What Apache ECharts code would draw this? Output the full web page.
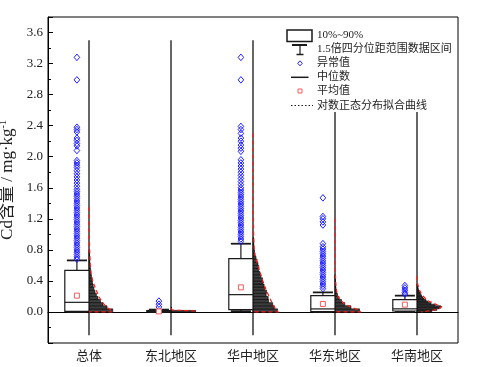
<!DOCTYPE html>
<html><head><meta charset="utf-8">
<script src="https://cdn.jsdelivr.net/npm/echarts@6/dist/echarts.min.js"></script>
<style>html,body{margin:0;padding:0;background:#fff}#c{width:480px;height:367px}</style>
</head><body><div id="c"></div>
<script>
// ---------- data ----------
const categories = ['总体', '东北地区', '华中地区', '华东地区', '华南地区'];

const whiskerLow  = [0.000, 0.000, 0.010, 0.000, 0.000];
const p10         = [0.008, 0.003, 0.030, 0.005, 0.012];
const medians     = [0.124, 0.010, 0.223, 0.039, 0.040];
const p90         = [0.536, 0.018, 0.686, 0.210, 0.158];
const whiskerHigh = [0.664, 0.030, 0.879, 0.252, 0.210];
const means       = [0.210, 0.007, 0.317, 0.103, 0.094];

const outliersTotal = [0.68,0.71,0.74,0.77,0.80,0.83,0.86,0.89,0.92,0.95,0.98,1.01,1.04,1.07,1.10,1.13,1.16,1.19,1.22,1.25,1.28,1.31,1.34,1.37,1.40,1.43,1.46,1.49,1.52,1.55,1.58,1.62,1.66,1.70,1.74,1.78,1.82,1.86,1.89,1.92,1.95,2.08,2.14,2.17,2.21,2.24,2.32,2.35,2.38,2.99,3.28];
const outliersNE = [0.065, 0.10, 0.14];
const outliersCentral = [0.91,0.94,0.97,1.00,1.03,1.06,1.09,1.12,1.15,1.18,1.21,1.24,1.27,1.30,1.33,1.36,1.39,1.42,1.45,1.48,1.51,1.54,1.57,1.60,1.64,1.68,1.72,1.76,1.80,1.84,1.88,1.92,1.96,2.07,2.11,2.15,2.20,2.24,2.30,2.35,2.39,2.99,3.28];
const outliersEast = [0.30,0.33,0.36,0.39,0.42,0.45,0.48,0.51,0.54,0.57,0.60,0.63,0.66,0.69,0.72,0.75,0.78,0.81,0.84,0.88,1.12,1.16,1.20,1.23,1.47];
const outliersSouth = [0.23, 0.25, 0.28, 0.31, 0.34];

// histogram: bin width (mg/kg) and relative frequency (%) per bin, starting at 0
const binWidths = [0.04, 0.02, 0.04, 0.04, 0.02];
const histTotal   = [29, 22, 17, 14, 11, 9, 7.3, 6, 5, 4.2, 3.6, 3, 2.4, 2, 1.6, 1.2, 1, 0.8, 0.7, 0.6];
const histNE      = [30];
const histCentral = [30, 26, 24, 19, 18.5, 16, 16.5, 14, 13.5, 12, 11.5, 9.5, 8.5, 7, 7, 6, 5, 3.6, 2.4, 1.8, 1.2, 1, 0.8, 0.6];
const histEast    = [30, 19.5, 12, 8, 5, 3, 1.8, 1.2, 0.8, 0.6, 0.5, 0.4];
const histSouth   = [18, 24, 27, 29, 22, 17, 13.5, 11, 8.5, 6.7, 5.5, 4.3, 3.6, 2.4, 1.8, 1.2, 1, 0.6];

// lognormal fit curves: [Cd value, relative frequency %]
const fitTotal   = [[1.35,0],[1.0,0.4],[0.8,0.8],[0.6,1.6],[0.5,2.5],[0.4,4.5],[0.33,7],[0.25,10],[0.18,13],[0.137,15.5],[0.09,19],[0.05,23],[0.02,27],[0,29],[0,0]];
const fitNE      = [[0.045,0],[0.025,1.5],[0.012,30],[0.006,30]];
const fitCentral = [[2.3,0],[1.5,0.3],[1.0,0.8],[0.8,1.5],[0.72,2.5],[0.6,6],[0.5,9],[0.4,12],[0.3,15.5],[0.2,19.5],[0.1,24],[0.05,27],[0.02,29.5],[0,30.5],[0,0]];
const fitEast    = [[1.2,0],[0.6,0.3],[0.4,0.8],[0.29,1.5],[0.2,3.5],[0.158,6],[0.1,12],[0.06,20],[0.026,29],[0,31],[0,0]];
const fitSouth   = [[0.46,0],[0.35,1],[0.287,2.8],[0.22,6],[0.18,9.8],[0.14,14],[0.116,19.5],[0.09,25],[0.065,30],[0.045,28],[0.03,23],[0.017,16],[0.005,8],[0,5]];

const legendLabels = ['10%~90%', '1.5倍四分位距范围数据区间', '异常值', '中位数', '平均值', '对数正态分布拟合曲线'];

const centerLineRange = [-0.3, 3.5];
const yMin = -0.4, yMax = 3.8, yStep = 0.4;

// ---------- build ----------
const outlierSets = [outliersTotal, outliersNE, outliersCentral, outliersEast, outliersSouth];
const histSets = [histTotal, histNE, histCentral, histEast, histSouth];
const fitSets = [fitTotal, fitNE, fitCentral, fitEast, fitSouth];

const outlierData = [];
outlierSets.forEach((arr, i) => arr.forEach(v => outlierData.push([i, v])));
const histData = [];
histSets.forEach((arr, i) => arr.forEach((f, k) => histData.push([i, k * binWidths[i], (k + 1) * binWidths[i], f])));

const SERIF = '"Liberation Serif", "Noto Sans CJK SC", serif';
const CJK = '"Noto Sans CJK SC", sans-serif';
const INK = '#1a1a1a';

// legend placement (pixels)
const LEG = { x: 285, y: 26, w: 172, h: 86 };

function band(api, i) {
  return { bw: api.size([1, 0])[0], c: api.coord([i, 0])[0] };
}

function legendGroup() {
  const rowY = [9, 23.3, 37.3, 51.3, 65, 79.7];
  const ch = [
    { type: 'rect', shape: { x: 0, y: 0, width: LEG.w, height: LEG.h }, style: { fill: '#fff' } },
    { type: 'rect', shape: { x: 2, y: 4, width: 25, height: 11.5 }, style: { fill: '#fff', stroke: INK, lineWidth: 1.5 } },
    { type: 'line', shape: { x1: 7, y1: 19, x2: 22, y2: 19 }, style: { stroke: INK, lineWidth: 2 } },
    { type: 'line', shape: { x1: 15, y1: 19, x2: 15, y2: 28.5 }, style: { stroke: INK, lineWidth: 1.2 } },
    { type: 'line', shape: { x1: 11.5, y1: 28.5, x2: 18.5, y2: 28.5 }, style: { stroke: INK, lineWidth: 1.5 } },
    { type: 'polygon', shape: { points: [[15, 34.8], [17.3, 37.3], [15, 39.8], [12.7, 37.3]] }, style: { fill: null, stroke: '#2020ff', lineWidth: 1 } },
    { type: 'line', shape: { x1: 6, y1: 51.3, x2: 23.5, y2: 51.3 }, style: { stroke: INK, lineWidth: 1.5 } },
    { type: 'rect', shape: { x: 13, y: 63, width: 4, height: 4 }, style: { fill: '#fff', stroke: '#ff5a5a', lineWidth: 1 } },
    { type: 'line', shape: { x1: 6, y1: 79.5, x2: 28, y2: 79.5 }, style: { stroke: INK, lineWidth: 1, lineDash: [1.5, 2] } }
  ];
  legendLabels.forEach((t, k) => ch.push({ type: 'text', x: 32, y: rowY[k],
    style: { text: t, font: '11px ' + SERIF, fill: '#222', verticalAlign: 'middle' } }));
  return { type: 'group', x: LEG.x, y: LEG.y, children: ch };
}

const chart = echarts.init(document.getElementById('c'), null, { renderer: 'canvas' });
chart.setOption({
  animation: false,
  backgroundColor: '#fff',
  grid: { left: 48, right: 22, top: 17, bottom: 24, show: true, borderColor: '#000', borderWidth: 1,
    containLabel: false, outerBoundsMode: 'none' },
  xAxis: {
    type: 'category', data: categories,
    axisLine: { lineStyle: { color: '#000', width: 1 } },
    axisTick: { show: true, inside: true, alignWithLabel: true, length: 5, lineStyle: { color: '#000' } },
    axisLabel: { fontFamily: CJK, fontSize: 13, color: '#222', margin: 6 },
    splitLine: { show: false }
  },
  yAxis: {
    type: 'value', min: yMin, max: yMax, interval: yStep,
    name: 'Cd含量 / mg·kg{sup|-1}', nameLocation: 'middle', nameGap: 23,
    nameTextStyle: { fontFamily: SERIF, fontSize: 17, color: '#222',
      rich: { sup: { fontFamily: SERIF, fontSize: 10, color: '#222', verticalAlign: 'top' } } },
    axisLine: { show: true, lineStyle: { color: '#000', width: 1 } },
    axisTick: { show: true, inside: true, length: 5, lineStyle: { color: '#000' } },
    minorTick: { show: true, splitNumber: 2, length: 3, lineStyle: { color: '#000' } },
    axisLabel: { fontFamily: SERIF, fontSize: 13, color: '#222', margin: 5,
      formatter: v => (v < -0.01 || v > 3.7) ? '' : v.toFixed(1) },
    splitLine: { show: false }
  },
  series: [
    { // center guide lines (hidden behind the legend box where they pass under it)
      type: 'custom', z: 1, silent: true,
      data: categories.map((c, i) => [i, centerLineRange[0], centerLineRange[1]]),
      renderItem: (p, api) => {
        const i = api.value(0);
        const a = api.coord([i, api.value(1)]), b = api.coord([i, api.value(2)]);
        let top = b[1];
        if (a[0] >= LEG.x && a[0] <= LEG.x + LEG.w) top = Math.max(top, LEG.y + LEG.h);
        return { type: 'line', shape: { x1: a[0], y1: a[1], x2: a[0], y2: top }, style: { stroke: '#000', lineWidth: 1.2 } };
      }
    },
    { // histograms
      type: 'custom', z: 2, silent: true,
      data: histData,
      renderItem: (p, api) => {
        const i = api.value(0);
        const { bw, c } = band(api, i);
        const y0 = api.coord([i, api.value(1)])[1], y1 = api.coord([i, api.value(2)])[1];
        const len = api.value(3) / 100 * bw;
        return { type: 'rect', shape: { x: c, y: y1, width: len, height: y0 - y1 },
          style: { fill: '#3d3d3d', stroke: '#000', lineWidth: 0.6 } };
      }
    },
    { // boxes + whiskers + median
      type: 'custom', z: 3, silent: true,
      data: categories.map((c, i) => [i, whiskerLow[i], p10[i], medians[i], p90[i], whiskerHigh[i]]),
      renderItem: (p, api) => {
        const i = api.value(0);
        const { bw, c } = band(api, i);
        const w = bw * 0.295, xm = c - w / 2, cap = bw * 0.245;
        const y = k => api.coord([i, api.value(k)])[1];
        const yLo = y(1), y10 = y(2), yMed = y(3), y90 = y(4), yHi = y(5);
        const st = { stroke: INK, lineWidth: 1.2 };
        const capSt = { stroke: INK, lineWidth: 1.8 };
        return { type: 'group', children: [
          { type: 'line', shape: { x1: xm, y1: y90, x2: xm, y2: yHi }, style: st },
          { type: 'line', shape: { x1: xm - cap / 2, y1: yHi, x2: xm + cap / 2, y2: yHi }, style: capSt },
          { type: 'line', shape: { x1: xm, y1: y10, x2: xm, y2: yLo }, style: st },
          { type: 'line', shape: { x1: xm - cap / 2, y1: yLo, x2: xm + cap / 2, y2: yLo }, style: capSt },
          { type: 'rect', shape: { x: c - w, y: y90, width: w, height: Math.max(y10 - y90, 0.5) }, style: { fill: '#fff', stroke: INK, lineWidth: 1.2 } },
          { type: 'line', shape: { x1: c - w, y1: yMed, x2: c, y2: yMed }, style: st }
        ] };
      }
    },
    { // lognormal fit curves
      type: 'custom', z: 4, silent: true,
      data: categories.map((c, i) => [i, 0]),
      renderItem: (p, api) => {
        const i = api.value(0);
        const { bw, c } = band(api, i);
        const pts = fitSets[i].map(d => [c + d[1] / 100 * bw, api.coord([i, d[0]])[1]]);
        return { type: 'polyline', shape: { points: pts },
          style: { stroke: '#ff1a1a', lineWidth: 1.2, lineDash: [4, 3], fill: null } };
      }
    },
    { // outliers
      type: 'custom', z: 5, silent: true,
      data: outlierData,
      renderItem: (p, api) => {
        const i = api.value(0);
        const { bw, c } = band(api, i);
        const x = c - bw * 0.295 / 2, yy = api.coord([i, api.value(1)])[1];
        const hw = 2.8, hh = 3.3;
        return { type: 'polygon', shape: { points: [[x, yy - hh], [x + hw, yy], [x, yy + hh], [x - hw, yy]] },
          style: { fill: null, stroke: '#2020ff', lineWidth: 1 } };
      }
    },
    { // means
      type: 'custom', z: 6, silent: true,
      data: categories.map((c, i) => [i, means[i]]),
      renderItem: (p, api) => {
        const i = api.value(0);
        const { bw, c } = band(api, i);
        const x = c - bw * 0.295 / 2, yy = api.coord([i, api.value(1)])[1];
        return { type: 'rect', shape: { x: x - 2.5, y: yy - 2.5, width: 5, height: 5 },
          style: { fill: '#fff', stroke: '#ff5a5a', lineWidth: 1 } };
      }
    },
    { // legend
      type: 'custom', z: 20, silent: true, clip: false,
      data: [[0, 0]],
      renderItem: () => legendGroup()
    }
  ]
});
</script>
</body></html>
